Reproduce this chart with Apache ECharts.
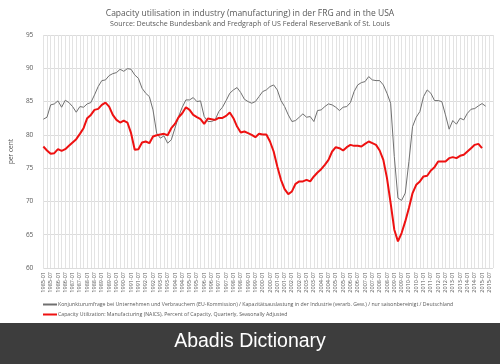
<!DOCTYPE html>
<html><head><meta charset="utf-8">
<script src="https://cdn.jsdelivr.net/npm/echarts@6/dist/echarts.min.js"></script>
<style>html,body{margin:0;padding:0;background:#fff}#c{width:500px;height:364px}</style>
</head><body><div id="c"></div>
<script>
// Quarterly categories 1985-01 .. 2015-04
const categories = [];
for (let y = 1985; y <= 2015; y++) { for (const m of ['01','04','07','10']) categories.push(y + '-' + m); }

const germany = [
82.35,82.65,84.5,84.65,85.1,84.15,85.2,84.85,84.25,83.4,
84.25,84.15,84.65,84.85,86.0,87.25,88.15,88.25,88.9,89.2,
89.35,89.85,89.55,89.95,89.85,89.0,88.5,87.0,86.25,85.75,
83.75,80.25,79.5,79.85,78.75,79.25,81.0,82.75,84.15,85.25,
85.25,85.6,85.0,85.1,82.75,82.0,82.0,82.25,83.5,84.15,
85.15,86.25,86.75,87.1,86.35,85.35,85.0,84.75,85.0,85.75,
86.5,86.75,87.25,87.5,86.75,85.15,84.25,83.0,82.0,82.15,
82.65,83.15,82.65,82.75,82.0,83.65,83.75,84.25,84.65,84.5,
84.15,83.65,84.15,84.25,84.85,86.5,87.5,87.85,88.0,88.75,
88.25,88.15,88.15,87.5,86.25,84.75,76.75,70.5,70.15,71.25,
76.0,81.25,82.65,83.5,85.75,86.75,86.25,85.15,85.15,85.0,
83.0,80.85,82.15,81.6,82.5,82.25,83.25,83.85,83.95,84.35,
84.7,84.3
];

const usa = [
78.25,77.65,77.15,77.25,77.85,77.6,77.85,78.35,78.85,79.35,
80.15,81.0,82.5,83.0,83.75,83.9,84.5,84.85,84.25,83.0,
82.25,81.85,82.15,81.85,80.25,77.75,77.85,78.85,79.0,78.75,
79.75,79.95,80.05,80.15,79.95,81.0,81.65,82.65,83.25,84.15,
83.75,83.0,82.65,82.35,81.65,82.45,82.35,82.25,82.55,82.55,
82.85,83.35,82.5,81.25,80.35,80.5,80.25,80.0,79.65,80.15,
80.05,80.05,79.0,77.5,75.25,73.25,71.85,71.1,71.5,72.65,
73.0,73.0,73.25,73.0,73.75,74.35,74.85,75.5,76.25,77.5,
78.15,78.0,77.65,78.15,78.5,78.35,78.35,78.25,78.65,79.0,
78.75,78.5,77.65,76.25,73.5,69.75,65.75,64.0,65.25,67.0,
69.0,71.25,72.5,73.0,73.75,73.85,74.65,75.15,76.0,76.0,
76.0,76.5,76.65,76.5,76.85,77.0,77.5,78.0,78.5,78.65,
78.0,null
];

const titleText = 'Capacity utilisation in industry (manufacturing) in der FRG and in the USA';
const subtitleText = 'Source: Deutsche Bundesbank and Fredgraph of US Federal ReserveBank of St. Louis';
const nameDE = 'Konjunkturumfrage bei Unternehmen und Verbrauchern (EU-Kommission) / Kapazitätsauslastung in der Industrie (verarb. Gew.) / nur saisonbereinigt / Deutschland';
const nameUS = 'Capacity Utilization: Manufacturing (NAICS), Percent of Capacity, Quarterly, Seasonally Adjusted';
const yAxisName = 'per cent';
const footerText = 'Abadis Dictionary';

const chart = echarts.init(document.getElementById('c'), null, {renderer: 'canvas'});
const txt = '#595959';
chart.setOption({
  animation: false,
  backgroundColor: '#fff',
  textStyle: {fontFamily: 'Open Sans'},
  title: {
    text: titleText, subtext: subtitleText, left: 'center', top: 4, itemGap: 2,
    textStyle: {fontSize: 8.5, fontWeight: 'normal', color: txt, fontFamily: 'Open Sans'},
    subtextStyle: {fontSize: 7.1, color: txt, fontFamily: 'Open Sans'}
  },
  legend: {
    orient: 'vertical', left: 38, top: 297, itemGap: 5,
    itemWidth: 14, itemHeight: 2, icon: 'rect',
    textStyle: {fontSize: 5.2, color: txt, padding: [0,0,0,-4]},
    data: [nameDE, nameUS]
  },
  grid: {left: 33, right: 7, top: 35, bottom: 96, containLabel: false},
  xAxis: {
    type: 'category', data: categories, boundaryGap: false,
    axisLine: {show: false}, axisTick: {show: false},
    axisLabel: {interval: 1, rotate: 90, fontSize: 5.5, color: txt, margin: 4},
    splitLine: {show: true, interval: 0, lineStyle: {color: '#e3e3e3', width: 1}}
  },
  yAxis: {
    type: 'value', min: 60, max: 95, interval: 5,
    name: yAxisName, nameLocation: 'middle', nameGap: 18, nameRotate: 90,
    nameTextStyle: {fontSize: 6.5, color: txt},
    axisLine: {show: false}, axisTick: {show: false},
    axisLabel: {fontSize: 6.5, color: txt, margin: 10},
    splitLine: {lineStyle: {color: '#dcdcdc', width: 1}}
  },
  series: [
    {name: nameDE, type: 'line', data: germany, showSymbol: false, symbol: 'none',
     lineStyle: {color: '#707070', width: 1}, itemStyle: {color: '#707070'}},
    {name: nameUS, type: 'line', data: usa, showSymbol: false, symbol: 'none',
     lineStyle: {color: '#ee1111', width: 2}, itemStyle: {color: '#ee1111'}}
  ],
  graphic: [
    {type: 'rect', left: 0, top: 323, shape: {width: 500, height: 41}, style: {fill: '#3d3d3d'}, z: 10},
    {type: 'text', left: 'center', top: 332, z: 11,
     style: {text: footerText, fill: '#ffffff', fontSize: 19.5, fontFamily: 'Liberation Sans'}}
  ]
});
</script></body></html>
